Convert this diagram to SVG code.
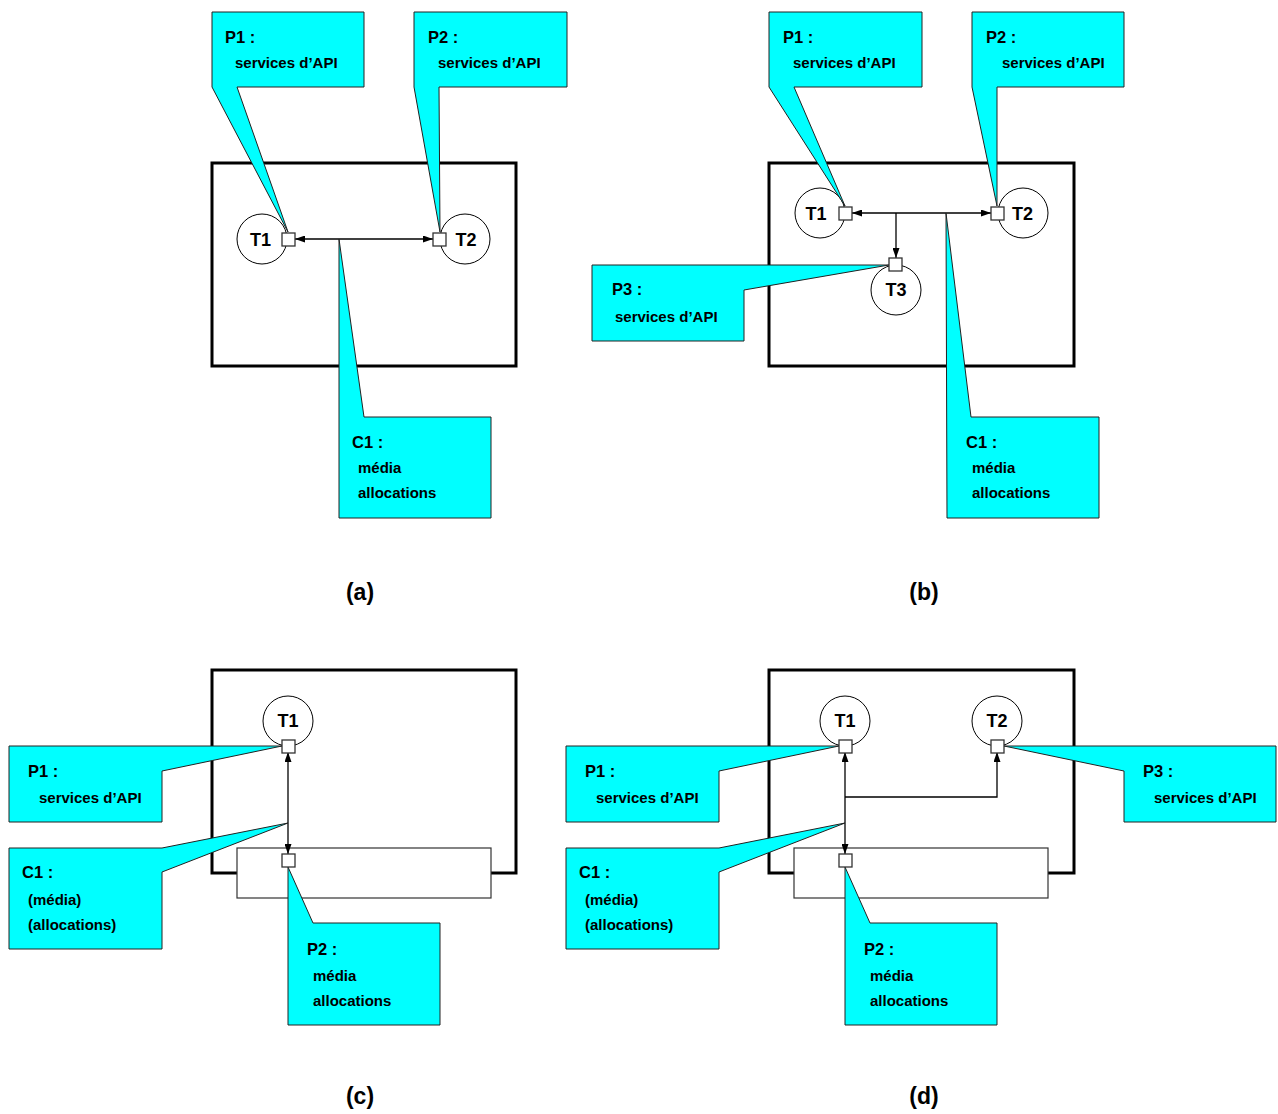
<svg xmlns="http://www.w3.org/2000/svg" width="1278" height="1114" viewBox="0 0 1278 1114">
<style>
.frame{fill:none;stroke:#000;stroke-width:3}
.sub{fill:#fff;stroke:#333;stroke-width:1.2}
.task{fill:#fff;stroke:#000;stroke-width:1}
.port{fill:#fff;stroke:#333;stroke-width:1.3}
.co{fill:#00ffff;stroke:#222;stroke-width:1}
.conn{fill:none;stroke:#000;stroke-width:1.3}
text{font-family:"Liberation Sans",Arial,Helvetica,sans-serif;font-weight:bold;fill:#000}
.tl{font-size:18px;text-anchor:middle}
.h{font-size:16.5px}
.b{font-size:15px}
.cap{font-size:23px;text-anchor:middle}
</style>
<defs>
<marker id="arr" markerUnits="userSpaceOnUse" markerWidth="10" markerHeight="7" refX="10" refY="3.5" orient="auto-start-reverse">
<path d="M0,0 L10,3.5 L0,7 z" fill="#000"/>
</marker>
</defs>

<!-- frames -->
<g id="frames">
<rect class="frame" x="212" y="163" width="304" height="203"/>
<rect class="frame" x="769" y="163" width="305" height="203"/>
<rect class="frame" x="212" y="670" width="304" height="203"/>
<rect class="frame" x="769" y="670" width="305" height="203"/>
<rect class="sub" x="237" y="848" width="254" height="50"/>
<rect class="sub" x="794" y="848" width="254" height="50"/>
</g>

<!-- task circles -->
<g id="a-T1"><circle class="task" cx="262" cy="239" r="25"/><text class="tl" x="260.5" y="246">T1</text></g>
<g id="a-T2"><circle class="task" cx="465" cy="239" r="25"/><text class="tl" x="466" y="246">T2</text></g>
<g id="b-T1"><circle class="task" cx="820" cy="213" r="25"/><text class="tl" x="816" y="220">T1</text></g>
<g id="b-T2"><circle class="task" cx="1023" cy="213" r="25"/><text class="tl" x="1022.5" y="220">T2</text></g>
<g id="b-T3"><circle class="task" cx="896" cy="290" r="25"/><text class="tl" x="896" y="296">T3</text></g>
<g id="c-T1"><circle class="task" cx="288" cy="721" r="25"/><text class="tl" x="288" y="727">T1</text></g>
<g id="d-T1"><circle class="task" cx="845" cy="721" r="25"/><text class="tl" x="845" y="727">T1</text></g>
<g id="d-T2"><circle class="task" cx="997" cy="721" r="25"/><text class="tl" x="997" y="727">T2</text></g>

<!-- connectors -->
<g id="connectors">
<line class="conn" x1="295" y1="239" x2="433" y2="239" marker-start="url(#arr)" marker-end="url(#arr)"/>
<line class="conn" x1="852" y1="213" x2="991" y2="213" marker-start="url(#arr)" marker-end="url(#arr)"/>
<line class="conn" x1="896" y1="213" x2="896" y2="258" marker-end="url(#arr)"/>
<line class="conn" x1="288" y1="752" x2="288" y2="854" marker-start="url(#arr)" marker-end="url(#arr)"/>
<line class="conn" x1="845" y1="752" x2="845" y2="854" marker-start="url(#arr)" marker-end="url(#arr)"/>
<polyline class="conn" points="845,797 997,797 997,752" marker-end="url(#arr)"/>
</g>

<!-- callouts -->
<g id="a-P1-label"><polygon class="co" points="212,12 364,12 364,87 237,87 288,232 212,87"/><text class="h" x="225" y="43">P1 :</text><text class="b" x="235" y="68">services d’API</text></g>
<g id="a-P2-label"><polygon class="co" points="414,12 567,12 567,87 439,87 440,232 414,87"/><text class="h" x="428" y="43">P2 :</text><text class="b" x="438" y="68">services d’API</text></g>
<g id="a-C1-label"><polygon class="co" points="339,239 364,417 491,417 491,518 339,518"/><text class="h" x="352" y="448">C1 :</text><text class="b" x="358" y="473">média</text><text class="b" x="358" y="498">allocations</text></g>

<g id="b-P1-label"><polygon class="co" points="769,12 922,12 922,87 794,87 845,206 769,87"/><text class="h" x="783" y="43">P1 :</text><text class="b" x="793" y="68">services d’API</text></g>
<g id="b-P2-label"><polygon class="co" points="972,12 1124,12 1124,87 997,87 997,206 972,87"/><text class="h" x="986" y="43">P2 :</text><text class="b" x="1002" y="68">services d’API</text></g>
<g id="b-P3-label"><polygon class="co" points="592,265 889,265 744,290 744,341 592,341"/><text class="h" x="612" y="295">P3 :</text><text class="b" x="615" y="322">services d’API</text></g>
<g id="b-C1-label"><polygon class="co" points="946,213 971,417 1099,417 1099,518 947,518"/><text class="h" x="966" y="448">C1 :</text><text class="b" x="972" y="473">média</text><text class="b" x="972" y="498">allocations</text></g>

<g id="c-P1-label"><polygon class="co" points="9,746 282,746 162,771 162,822 9,822"/><text class="h" x="28" y="777">P1 :</text><text class="b" x="39" y="803">services d’API</text></g>
<g id="c-C1-label"><polygon class="co" points="9,848 162,848 288,823 162,872 162,949 9,949"/><text class="h" x="22" y="878">C1 :</text><text class="b" x="28" y="905">(média)</text><text class="b" x="28" y="930">(allocations)</text></g>
<g id="c-P2-label"><polygon class="co" points="288,867 313,923 440,923 440,1025 288,1025"/><text class="h" x="307" y="955">P2 :</text><text class="b" x="313" y="981">média</text><text class="b" x="313" y="1006">allocations</text></g>

<g id="d-P1-label"><polygon class="co" points="566,746 839,746 719,771 719,822 566,822"/><text class="h" x="585" y="777">P1 :</text><text class="b" x="596" y="803">services d’API</text></g>
<g id="d-C1-label"><polygon class="co" points="566,848 719,848 845,823 719,872 719,949 566,949"/><text class="h" x="579" y="878">C1 :</text><text class="b" x="585" y="905">(média)</text><text class="b" x="585" y="930">(allocations)</text></g>
<g id="d-P2-label"><polygon class="co" points="845,867 870,923 997,923 997,1025 845,1025"/><text class="h" x="864" y="955">P2 :</text><text class="b" x="870" y="981">média</text><text class="b" x="870" y="1006">allocations</text></g>
<g id="d-P3-label"><polygon class="co" points="1004,746 1276,746 1276,822 1124,822 1124,771"/><text class="h" x="1143" y="777">P3 :</text><text class="b" x="1154" y="803">services d’API</text></g>

<!-- ports -->
<g id="ports">
<rect class="port" x="282" y="233" width="13" height="13"/>
<rect class="port" x="433" y="233" width="13" height="13"/>
<rect class="port" x="839" y="207" width="13" height="13"/>
<rect class="port" x="991" y="207" width="13" height="13"/>
<rect class="port" x="889" y="258" width="13" height="13"/>
<rect class="port" x="282" y="740" width="13" height="13"/>
<rect class="port" x="282" y="854" width="13" height="13"/>
<rect class="port" x="839" y="740" width="13" height="13"/>
<rect class="port" x="991" y="740" width="13" height="13"/>
<rect class="port" x="839" y="854" width="13" height="13"/>
</g>

<!-- captions -->
<g id="captions">
<text class="cap" x="360" y="600">(a)</text>
<text class="cap" x="924" y="600">(b)</text>
<text class="cap" x="360" y="1104">(c)</text>
<text class="cap" x="924" y="1104">(d)</text>
</g>
</svg>
